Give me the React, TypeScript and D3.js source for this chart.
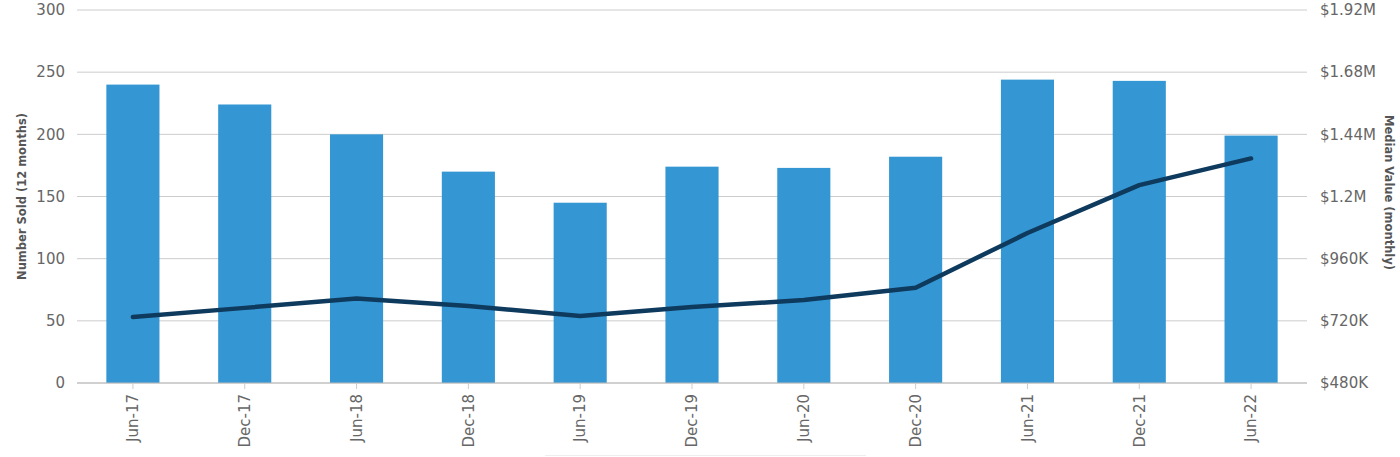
import React from "react";
import * as d3 from "d3";

const categories = ["Jun-17", "Dec-17", "Jun-18", "Dec-18", "Jun-19", "Dec-19", "Jun-20", "Dec-20", "Jun-21", "Dec-21", "Jun-22"];
const numberSold = [240, 224, 200, 170, 145, 174, 173, 182, 244, 243, 199];
const medianValue = [735000, 770000, 806000, 777000, 739000, 773000, 800000, 848000, 1059000, 1244000, 1347000];
const leftTicks = [0, 50, 100, 150, 200, 250, 300];
const rightTicks = [480000, 720000, 960000, 1200000, 1440000, 1680000, 1920000];
const rightTickLabels = ["$480K", "$720K", "$960K", "$1.2M", "$1.44M", "$1.68M", "$1.92M"];

const W = 1400;
const H = 457;
const left = 77;
const right = 1307;
const top = 10;
const bottom = 383;
const font = "'DejaVu Sans', sans-serif";

export default function App() {
  const x = d3.scaleBand<string>().domain(categories).range([left, right]).paddingInner(0.525).paddingOuter(0.2625);
  const yL = d3.scaleLinear().domain([0, 300]).range([bottom, top]);
  const yR = d3.scaleLinear().domain([480000, 1920000]).range([bottom, top]);
  const line = d3
    .line<number>()
    .x((_, i) => (x(categories[i]) as number) + x.bandwidth() / 2)
    .y((d) => yR(d));

  return (
    <svg width={W} height={H} style={{ position: "absolute", left: 0, top: 0 }} fontFamily={font}>
      {leftTicks.map((t) => (
        <line key={"g" + t} x1={left} x2={right} y1={yL(t)} y2={yL(t)} stroke="#cccccc" strokeWidth={1} />
      ))}
      {leftTicks.map((t) => (
        <text key={"l" + t} x={65} y={yL(t)} dy="0.35em" textAnchor="end" fontSize={15} fill="#666666">
          {t}
        </text>
      ))}
      {rightTicks.map((t, i) => (
        <text key={"r" + t} x={1320} y={yR(t)} dy="0.35em" textAnchor="start" fontSize={15} fill="#666666">
          {rightTickLabels[i]}
        </text>
      ))}
      <text
        transform={`translate(26,${(top + bottom) / 2}) rotate(-90)`}
        textAnchor="middle"
        fontSize={11.5}
        fontWeight="bold"
        fill="#555555"
      >
        Number Sold (12 months)
      </text>
      <text
        transform={`translate(1385,${(top + bottom) / 2 - 4}) rotate(90)`}
        textAnchor="middle"
        fontSize={11.5}
        fontWeight="bold"
        fill="#555555"
      >
        Median Value (monthly)
      </text>
      {categories.map((c, i) => (
        <rect
          key={"b" + c}
          x={x(c)}
          y={yL(numberSold[i])}
          width={x.bandwidth()}
          height={bottom - yL(numberSold[i])}
          fill="#3497d3"
        />
      ))}
      <line x1={left} x2={right} y1={bottom} y2={bottom} stroke="#bbbbbb" strokeWidth={1} />
      {categories.map((c) => {
        const cx = (x(c) as number) + x.bandwidth() / 2;
        return (
          <g key={"t" + c}>
            <line x1={cx} x2={cx} y1={bottom} y2={bottom + 6} stroke="#cccccc" />
            <text
              transform={`translate(${cx},${bottom + 11}) rotate(-90)`}
              textAnchor="end"
              dy="0.35em"
              fontSize={15}
              fill="#666666"
            >
              {c}
            </text>
          </g>
        );
      })}
      <path
        d={line(medianValue) as string}
        fill="none"
        stroke="#0e3a5e"
        strokeWidth={4.5}
        strokeLinecap="round"
        strokeLinejoin="round"
      />
      <line x1={545} x2={866} y1={455.5} y2={455.5} stroke="#eeeeee" strokeWidth={1} />
    </svg>
  );
}
